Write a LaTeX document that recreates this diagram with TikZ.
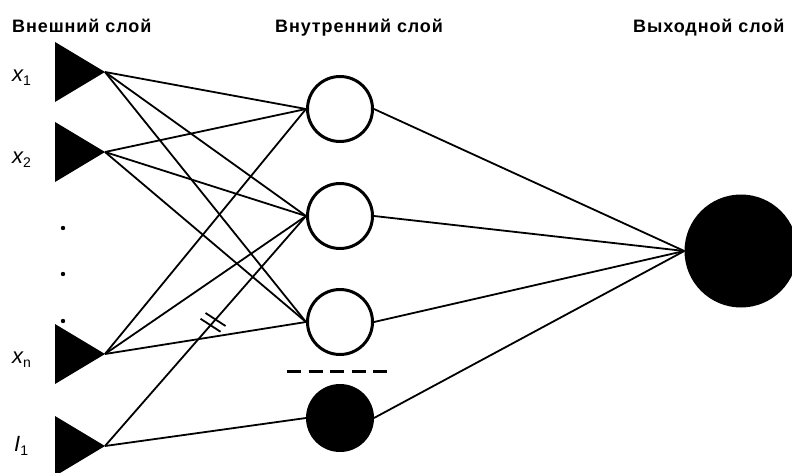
\documentclass[tikz,border=0pt]{standalone}
\usepackage{fontspec}
\setmainfont{Liberation Sans}
\newfontfamily\hdrfont[LetterSpace=5]{Liberation Sans}
\usetikzlibrary{calc}
\tikzset{
  hidden/.style={circle, draw=black, line width=3pt, minimum size=65pt, inner sep=0pt, fill=white},
  biasnode/.style={circle, draw=black, fill=black, line width=3pt, minimum size=65pt, inner sep=0pt},
  outnode/.style={circle, fill=black, minimum size=113pt, inner sep=0pt},
  conn/.style={line width=1.8pt, black},
  header/.style={anchor=base west, inner sep=0pt, font=\hdrfont\bfseries\fontsize{18}{18}\selectfont},
  varlabel/.style={anchor=base west, inner sep=0pt, font=\fontsize{22}{22}\selectfont},
  tick/.style={line width=1.8pt},
}
\newcommand{\sbs}[1]{\raisebox{-4pt}{\fontsize{14}{14}\selectfont\upshape #1}}
\begin{document}
\begin{tikzpicture}[x=1pt,y=-1pt]
\useasboundingbox (0,0) rectangle (792,473);
% headers
\node[header] (hIn) at (12,33) {Внешний слой};
\node[header] (hHid) at (275,33) {Внутренний слой};
\node[header] (hOut) at (633,33) {Выходной слой};
% input tips
\coordinate (x1) at (105,72);
\coordinate (x2) at (105,152);
\coordinate (xn) at (105,354);
\coordinate (i1) at (105,446);
\foreach \t in {x1,x2,xn,i1}{
  \fill (\t) -- ++(-50,-30) -- ++(0,60) -- cycle;
}
% labels
\node[varlabel] (lx1) at (12,82) {\itshape x\sbs{1}};
\node[varlabel] (lx2) at (12,164) {\itshape x\sbs{2}};
\node[varlabel] (lxn) at (12,363) {\itshape x\sbs{n}};
\node[varlabel] (li1) at (14,451) {\itshape I\sbs{1}};
% dots
\fill (63,228) circle (2.2pt);
\fill (63,274) circle (2.2pt);
\fill (63,321) circle (2.2pt);
% hidden
\node[hidden] (h1) at (340,109) {};
\node[hidden] (h2) at (340,216) {};
\node[hidden] (h3) at (340,322) {};
\node[biasnode] (b) at (340,418) {};
\node[outnode] (out) at (741,251) {};
% dashed separator
\draw[line width=3pt, dash pattern=on 14pt off 7.5pt] (287,371) -- (387,371);
% connections
\foreach \s in {x1,x2,xn}{
  \foreach \h in {h1,h2,h3}{
    \draw[conn] (\s) -- (\h.west);
  }
}
\draw[conn] (i1) -- (h2.west);
\draw[conn] (i1) -- (b.west);
\foreach \h in {h1,h2,h3,b}{
  \draw[conn] (\h.east) -- (out.west);
}
% tick marks
\draw[tick] ($(i1)!0.525!(h2.west)$) ++(-10,-6.5) -- ++(20,13);
\draw[tick] ($(i1)!0.55!(h2.west)$) ++(-10,-6.5) -- ++(20,13);
\end{tikzpicture}
\end{document}
